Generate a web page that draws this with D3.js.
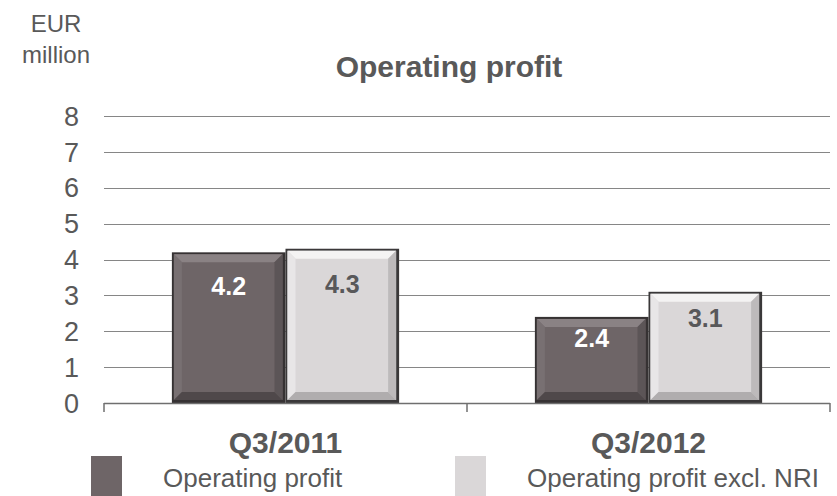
<!DOCTYPE html>
<html lang="en">
<head>
<meta charset="utf-8">
<title>Operating profit</title>
<script src="https://d3js.org/d3.v7.min.js"></script>
<style>
  body { margin: 0; background: #fff; }
  text { font-family: "Liberation Sans", Arial, sans-serif; }
</style>
</head>
<body>
<div id="chart"></div>
<script>
// data
var categories = ["Q3/2011", "Q3/2012"];
var seriesNames = ["Operating profit", "Operating profit excl. NRI"];
var opProfit = [4.2, 2.4];
var opProfitExclNri = [4.3, 3.1];
var yTicks = [0, 1, 2, 3, 4, 5, 6, 7, 8];

var W = 837, H = 496;
var svg = d3.select("#chart").append("svg").attr("width", W).attr("height", H);

var x0 = d3.scaleBand().domain(categories).range([104, 830]);
var bw = x0.bandwidth();
var x1 = d3.scaleBand().domain(seriesNames).range([bw * 0.187, bw * 0.813]);
var y = d3.scaleLinear().domain([0, 8]).range([403, 116]);

var txt = "#595959";

// gridlines
svg.append("g").selectAll("line").data(yTicks.slice(1)).enter().append("line")
  .attr("x1", 104).attr("x2", 830)
  .attr("y1", function (d) { return Math.round(y(d)) + 0.5; })
  .attr("y2", function (d) { return Math.round(y(d)) + 0.5; })
  .attr("stroke", "#868686").attr("stroke-width", 1);

// y labels
svg.append("g").selectAll("text").data(yTicks).enter().append("text")
  .attr("x", 79).attr("y", function (d) { return y(d); })
  .attr("dy", "0.36em").attr("text-anchor", "end")
  .style("font-size", "27px").attr("fill", txt)
  .text(function (d) { return d; });

// bars
var styles = [
  { fill: "#6e6567", top: "#8a8284", left: "#787072", right: "#5c5557", bottom: "#4f484a", edge: "#363233", label: "#ffffff" },
  { fill: "#dad7d8", top: "#f4f3f3", left: "#e8e6e7", right: "#bdbabb", bottom: "#b0adae", edge: "#3a3839", label: "#58585a" }
];
var rows = [];
categories.forEach(function (c, i) {
  rows.push({ cat: c, s: 0, v: opProfit[i] });
  rows.push({ cat: c, s: 1, v: opProfitExclNri[i] });
});

var bars = svg.append("g").selectAll("g").data(rows).enter().append("g");
bars.each(function (d) {
  var g = d3.select(this), st = styles[d.s];
  var bx = x0(d.cat) + x1(seriesNames[d.s]), by = y(d.v);
  var w = x1.bandwidth(), h = y(0) - by;
  var b = 2, e = 8; // outline, bevel depth
  g.append("rect").attr("x", bx).attr("y", by).attr("width", w).attr("height", h).attr("fill", st.edge);
  var ix = bx + b, iy = by + b, iw = w - 2 * b - 1, ih = h - 2 * b - 1;
  g.append("rect").attr("x", ix).attr("y", iy).attr("width", iw).attr("height", ih).attr("fill", st.fill);
  var pts = function (a) { return a.map(function (p) { return p.join(","); }).join(" "); };
  g.append("polygon").attr("fill", st.top)
    .attr("points", pts([[ix, iy], [ix + iw, iy], [ix + iw - e, iy + e], [ix + e, iy + e]]));
  g.append("polygon").attr("fill", st.left)
    .attr("points", pts([[ix, iy], [ix + e, iy + e], [ix + e, iy + ih - e], [ix, iy + ih]]));
  g.append("polygon").attr("fill", st.right)
    .attr("points", pts([[ix + iw, iy], [ix + iw, iy + ih], [ix + iw - e, iy + ih - e], [ix + iw - e, iy + e]]));
  g.append("polygon").attr("fill", st.bottom)
    .attr("points", pts([[ix, iy + ih], [ix + e, iy + ih - e], [ix + iw - e, iy + ih - e], [ix + iw, iy + ih]]));
  g.append("text")
    .attr("x", bx + w / 2).attr("y", by + 13 + 0.2 * h)
    .attr("text-anchor", "middle").style("font-size", "25px").style("font-weight", "bold")
    .attr("fill", st.label).text(d.v.toFixed(1));
});

// x axis
svg.append("line").attr("x1", 104).attr("x2", 830).attr("y1", 403.5).attr("y2", 403.5)
  .attr("stroke", "#6f6f6f").attr("stroke-width", 1.5);
var tickX = [104].concat(categories.map(function (c) { return x0(c) + bw; }));
svg.append("g").selectAll("line").data(tickX).enter().append("line")
  .attr("x1", function (d) { return d; }).attr("x2", function (d) { return d; })
  .attr("y1", 403).attr("y2", 412).attr("stroke", "#6f6f6f").attr("stroke-width", 1.5);

svg.append("g").selectAll("text").data(categories).enter().append("text")
  .attr("x", function (d) { return x0(d) + bw / 2; }).attr("y", 453)
  .attr("text-anchor", "middle").style("font-size", "30px").style("font-weight", "bold")
  .attr("fill", txt).text(function (d) { return d; });

// titles
svg.append("text").attr("x", 449).attr("y", 77).attr("text-anchor", "middle")
  .style("font-size", "30px").style("font-weight", "bold").attr("fill", txt).text("Operating profit");
svg.append("text").attr("x", 56).attr("y", 32).attr("text-anchor", "middle")
  .style("font-size", "24px").attr("fill", txt).text("EUR");
svg.append("text").attr("x", 56).attr("y", 63).attr("text-anchor", "middle")
  .style("font-size", "24px").attr("fill", txt).text("million");

// legend
var legX = [91, 455];
var leg = svg.append("g").selectAll("g").data(seriesNames).enter().append("g");
leg.append("rect").attr("x", function (d, i) { return legX[i]; }).attr("y", 456)
  .attr("width", 31).attr("height", 40).attr("fill", function (d, i) { return styles[i].fill; });
leg.append("text").attr("x", function (d, i) { return legX[i] + 72; }).attr("y", 487)
  .style("font-size", "26px").attr("fill", txt).text(function (d) { return d; });
</script>
</body>
</html>
